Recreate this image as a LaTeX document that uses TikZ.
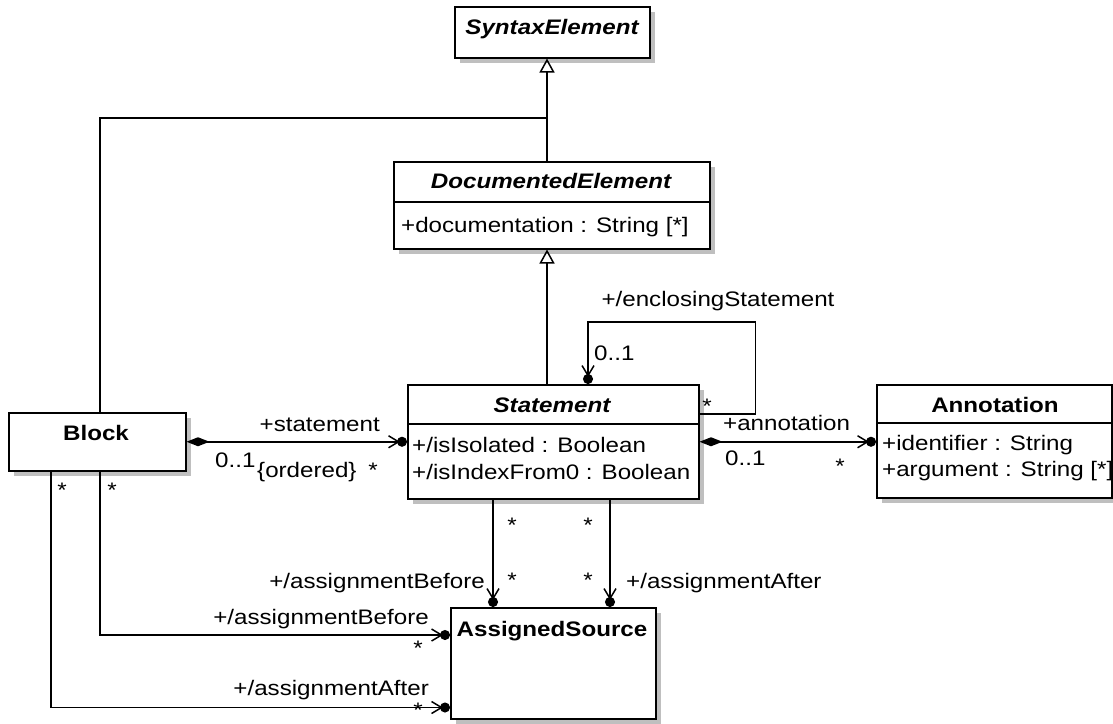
\documentclass[tikz,border=0pt]{standalone}
\usepackage{fontspec}
\setmainfont{Liberation Sans}[FakeStretch=1.15]
\usetikzlibrary{arrows.meta,calc,shadows}
\begin{document}
\begin{tikzpicture}[x=1pt,y=-1pt,
  cls/.style={draw, fill=white, line width=1.5pt, inner sep=0pt, anchor=north west,
    drop shadow={shadow xshift=5pt, shadow yshift=-5pt, fill=black!25, opacity=1}},
  txt/.style={inner sep=0pt, font=\fontsize{21}{25}\selectfont},
  ttl/.style={inner sep=0pt, font=\fontsize{21}{25}\selectfont\bfseries},
  ittl/.style={inner sep=0pt, font=\fontsize{21}{25}\selectfont\bfseries\itshape},
  ln/.style={line width=1.5pt},
  gen/.style={ln, -{Triangle[open,length=14pt,width=15pt]}},
  nav/.style={ln, -{Straight Barb[length=10pt,width=12pt,sep=-3pt]Circle[length=10pt]}},
  comp/.style={ln, {Diamond[length=23pt,width=9pt]}-{Straight Barb[length=10pt,width=12pt,sep=-3pt]Circle[length=10pt]}},
]
\path[use as bounding box, fill=white] (0,0) rectangle (1113,723);

% class boxes
\node[cls, minimum width=195pt, minimum height=51pt] (syn) at (454,6) {};
\node[cls, minimum width=316pt, minimum height=87pt] (doc) at (393,161) {};
\node[cls, minimum width=291pt, minimum height=114pt] (stm) at (407,384) {};
\node[cls, minimum width=177pt, minimum height=58pt] (blk) at (8,412) {};
\node[cls, minimum width=235pt, minimum height=113pt] (ann) at (876,384) {};
\node[cls, minimum width=205pt, minimum height=111pt] (asrc) at (450,607) {};

% compartments
\draw[ln] ($(doc.north west)+(0,41)$) -- ($(doc.north east)+(0,41)$);
\draw[ln] ($(stm.north west)+(0,40)$) -- ($(stm.north east)+(0,40)$);
\draw[ln] ($(ann.north west)+(0,39)$) -- ($(ann.north east)+(0,39)$);

% class texts
\node[ittl, anchor=base] (synT) at (552,34) {SyntaxElement};
\node[ittl, anchor=base] (docT) at (551,188) {DocumentedElement};
\node[txt, anchor=base west] (docA) at (401,232) {+documentation : String [*]};
\node[ittl, anchor=base] (stmT) at (552,412) {Statement};
\node[txt, anchor=base west] (stmA1) at (412,452) {+/isIsolated : Boolean};
\node[txt, anchor=base west] (stmA2) at (412,479) {+/isIndexFrom0 : Boolean};
\node[ttl, anchor=base] (blkT) at (96,440) {Block};
\node[ttl, anchor=base] (annT) at (995,412) {Annotation};
\node[txt, anchor=base west] (annA1) at (882,450) {+identifier : String};
\node[txt, anchor=base west] (annA2) at (882,476) {+argument : String [*]};
\node[ttl, anchor=base] (asrcT) at (552,636) {AssignedSource};

% generalizations
\draw[gen] ($(doc.north west)+(154,0)$) -- ($(syn.south west)+(93,0)$);
\draw[gen] ($(stm.north west)+(140,0)$) -- ($(doc.south west)+(154,0)$);
\draw[ln] ($(blk.north west)+(92,0)$) |- ($(doc.north west)+(154,-43)$);

% associations
\draw[comp] (blk.east) -- (stm.west);
\draw[comp] (stm.east) -- (stm.east -| ann.west);
\draw[nav] ($(stm.north east)+(0,30)$) -- ++(56,0) -- ++(0,-92) -| ($(stm.north west)+(181,0)$);
\draw[nav] ($(stm.south west)+(86,0)$) -- ($(asrc.north west)+(43,0)$);
\draw[nav] ($(stm.south west)+(203,0)$) -- ($(asrc.north west)+(160,0)$);
\draw[nav] ($(blk.south west)+(92,0)$) |- ($(asrc.north west)+(0,28)$);
\draw[nav] ($(blk.south west)+(43,0)$) |- ($(asrc.south west)+(0,-12)$);

% labels
\node[txt, anchor=base] (lEnc) at (718,306) {+/enclosingStatement};
\node[txt, anchor=base west] (lEncM) at (594,360) {0..1};
\node[txt, anchor=base] (lEncS) at (707,413) {*};
\node[txt, anchor=base east] (lSt) at (380,431) {+statement};
\node[txt, anchor=base west] (lStM) at (215,467) {0..1};
\node[txt, anchor=base west] (lOrd) at (257,477) {\{ordered\}};
\node[txt, anchor=base] (lStS) at (373,477) {*};
\node[txt, anchor=base west] (lAn) at (723,430) {+annotation};
\node[txt, anchor=base west] (lAnM) at (725,465) {0..1};
\node[txt, anchor=base] (lAnS) at (840,473) {*};
\node[txt, anchor=base] (lB1) at (62,497) {*};
\node[txt, anchor=base] (lB2) at (112,497) {*};
\node[txt, anchor=base] (lS1) at (512,532) {*};
\node[txt, anchor=base] (lS2) at (588,532) {*};
\node[txt, anchor=base] (lS3) at (512,587) {*};
\node[txt, anchor=base] (lS4) at (588,587) {*};
\node[txt, anchor=base east] (lAB1) at (485,588) {+/assignmentBefore};
\node[txt, anchor=base west] (lAA1) at (626,588) {+/assignmentAfter};
\node[txt, anchor=base east] (lAB2) at (429,624) {+/assignmentBefore};
\node[txt, anchor=base] (lAB2s) at (418,655) {*};
\node[txt, anchor=base east] (lAA2) at (429,695) {+/assignmentAfter};
\node[txt, anchor=base] (lAA2s) at (418,717) {*};
\end{tikzpicture}
\end{document}
